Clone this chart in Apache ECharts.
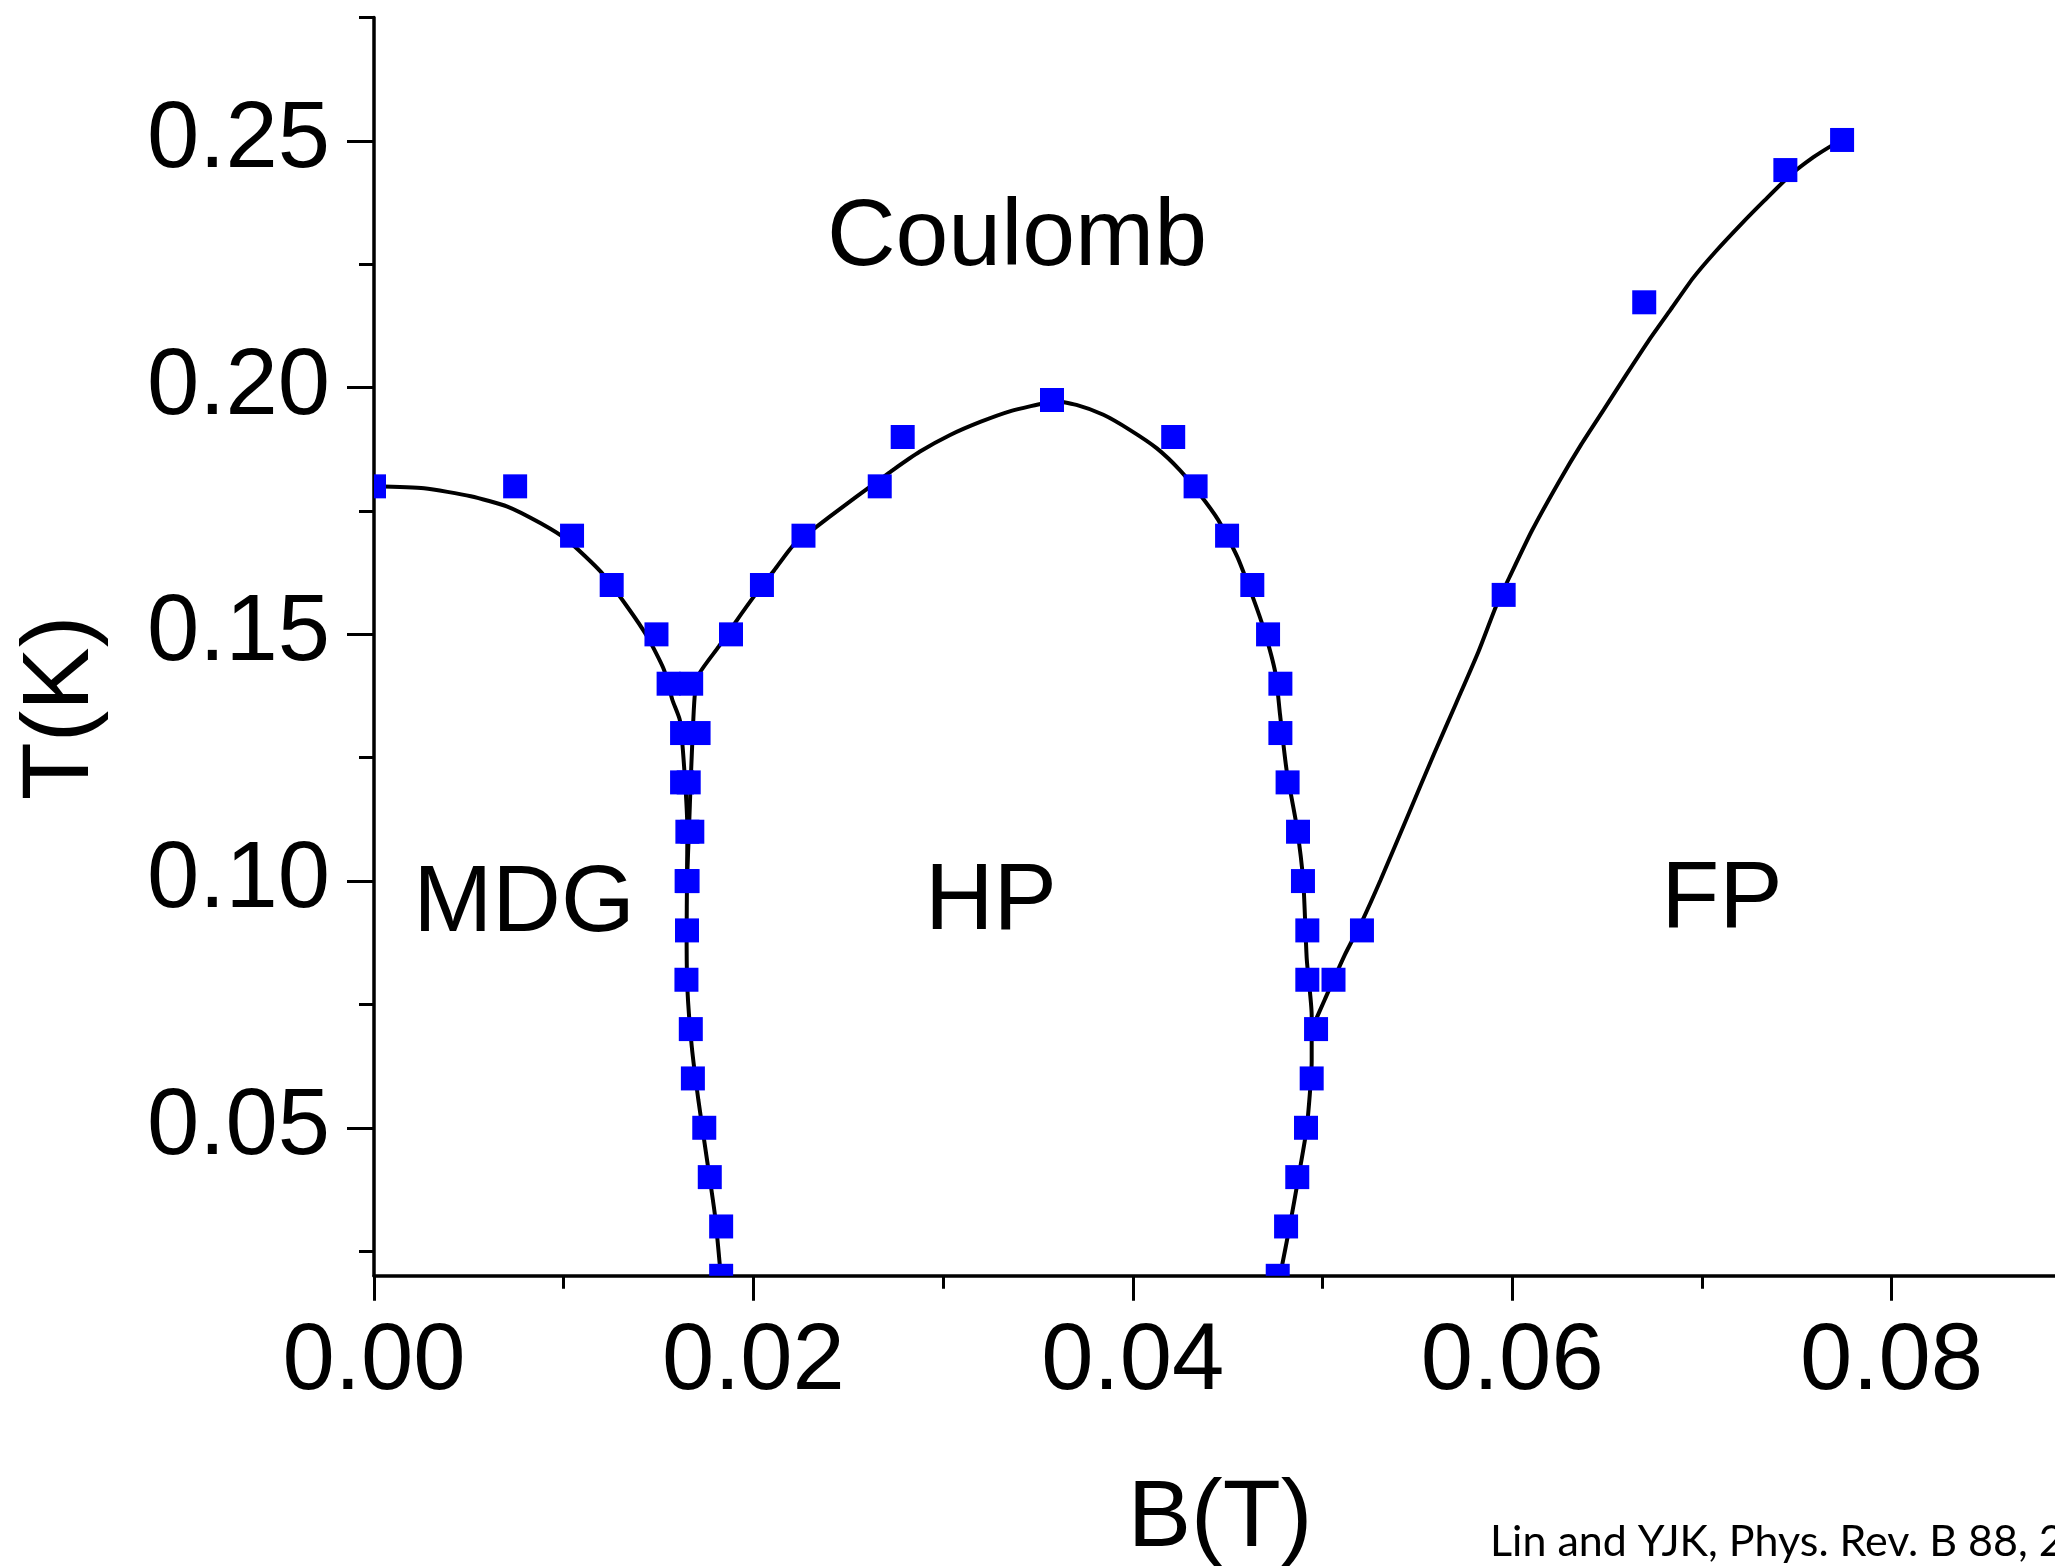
<!DOCTYPE html>
<html>
<head>
<meta charset="utf-8">
<script src="https://cdn.jsdelivr.net/npm/echarts@6/dist/echarts.min.js"></script>
<style>
  html, body { margin: 0; padding: 0; background: #fff; }
  #chart { width: 2055px; height: 1567px; }
</style>
</head>
<body>
<div id="chart"></div>
<script>
// tick values
const majorB = [0, 0.02, 0.04, 0.06, 0.08]
const minorB = [0.01, 0.03, 0.05, 0.07, 0.09]
const majorT = [0.05, 0.10, 0.15, 0.20, 0.25]
const minorT = [0.025, 0.075, 0.125, 0.175, 0.225, 0.275]

// measured points: MDG boundary
const mdgB = [0, 0.00744, 0.01044, 0.01253, 0.01489, 0.01553, 0.01624, 0.01624, 0.01652, 0.01648, 0.0165, 0.01647, 0.0167, 0.01681, 0.01741, 0.0177, 0.0183, 0.0183]
const mdgT = [0.18, 0.18, 0.17, 0.16, 0.15, 0.14, 0.13, 0.12, 0.11, 0.10, 0.09, 0.08, 0.07, 0.06, 0.05, 0.04, 0.03, 0.02]

// measured points: HP boundary
const hpB = [0.01672, 0.01711, 0.01659, 0.01678, 0.01653, 0.01882, 0.02045, 0.02264, 0.02666, 0.02787, 0.03574, 0.04213, 0.04331, 0.04497, 0.0463, 0.04713, 0.04778, 0.04778, 0.04816, 0.04871, 0.04897, 0.0492, 0.0492, 0.04966, 0.04943, 0.04913, 0.04867, 0.04808, 0.04764]
const hpT = [0.14, 0.13, 0.12, 0.11, 0.10, 0.15, 0.16, 0.17, 0.18, 0.19, 0.1975, 0.19, 0.18, 0.17, 0.16, 0.15, 0.14, 0.13, 0.12, 0.11, 0.10, 0.09, 0.08, 0.07, 0.06, 0.05, 0.04, 0.03, 0.02]

// measured points: FP boundary
const fpB = [0.05058, 0.05208, 0.05955, 0.06696, 0.0744, 0.07739]
const fpT = [0.08, 0.09, 0.158, 0.2173, 0.2441, 0.2502]

// guide curves
const fitMdgB = [0, 0.00264, 0.0051, 0.00703, 0.00879, 0.01019, 0.01195, 0.01335, 0.01441, 0.01529, 0.01573, 0.01613, 0.01639, 0.01652, 0.0165, 0.01648, 0.01652, 0.01675, 0.0171, 0.01754, 0.01798, 0.01828]
const fitMdgT = [0.18, 0.1796, 0.178, 0.1759, 0.1725, 0.1691, 0.1627, 0.1556, 0.1495, 0.1428, 0.1367, 0.1325, 0.1208, 0.11, 0.1003, 0.0891, 0.0782, 0.0665, 0.0556, 0.0439, 0.0321, 0.02]

const fitHpB = [0.0165, 0.0166, 0.0167, 0.01683, 0.01692, 0.01716, 0.01817, 0.01908, 0.02009, 0.0211, 0.02211, 0.02332, 0.02473, 0.02614, 0.02735, 0.02876, 0.03037, 0.03199, 0.0336, 0.03522, 0.03572, 0.03703, 0.03845, 0.03986, 0.04127, 0.04248, 0.04349, 0.0445, 0.04551, 0.04632, 0.04692, 0.04752, 0.04776, 0.04811, 0.04864, 0.04899, 0.04917, 0.04943, 0.04943, 0.04917, 0.04872, 0.04829, 0.04776]
const fitHpT = [0.1003, 0.11, 0.1208, 0.1325, 0.138, 0.1421, 0.1475, 0.1526, 0.158, 0.163, 0.1681, 0.1718, 0.1759, 0.1799, 0.1833, 0.187, 0.1904, 0.1931, 0.1953, 0.1968, 0.1974, 0.1965, 0.1945, 0.1914, 0.1877, 0.1833, 0.1786, 0.1732, 0.1657, 0.1576, 0.1509, 0.1421, 0.1338, 0.1224, 0.1111, 0.0997, 0.0842, 0.0728, 0.0635, 0.05, 0.0397, 0.0304, 0.02]

const fitFpB = [0.04943, 0.05011, 0.05117, 0.05209, 0.05305, 0.05446, 0.05587, 0.05705, 0.05823, 0.05917, 0.05987, 0.06105, 0.06246, 0.06364, 0.06482, 0.06599, 0.06717, 0.06835, 0.06953, 0.0707, 0.07211, 0.07329, 0.0747, 0.07588, 0.07682, 0.07739]
const fitFpT = [0.0700, 0.0759, 0.085, 0.0919, 0.1001, 0.1129, 0.1257, 0.1361, 0.1466, 0.1559, 0.1617, 0.1711, 0.1809, 0.1885, 0.1955, 0.2025, 0.2094, 0.2158, 0.2222, 0.2275, 0.2333, 0.2379, 0.2432, 0.2467, 0.249, 0.2502]

const zip = (xs, ys) => xs.map((x, i) => [x, ys[i]])

const FONT = '"Liberation Sans", Arial, sans-serif'
const MARK = 24

const chart = echarts.init(document.getElementById('chart'))

const curve = (b, t) => ({
  type: 'line',
  data: zip(b, t),
  showSymbol: false,
  smooth: 0.2,
  clip: true,
  lineStyle: { color: '#000', width: 4 },
  z: 2
})

// square markers, cut at the axes like the original
const points = (b, t) => ({
  type: 'custom',
  data: zip(b, t),
  z: 3,
  renderItem: (params, api) => {
    const p = api.coord([api.value(0), api.value(1)])
    const cs = params.coordSys
    const shape = echarts.graphic.clipRectByRect(
      { x: p[0] - MARK / 2, y: p[1] - MARK / 2, width: MARK, height: MARK },
      { x: cs.x, y: cs.y, width: cs.width, height: cs.height }
    )
    if (!shape) return
    return { type: 'rect', shape: shape, style: { fill: '#0000ff' } }
  }
})

const label = (text, x, y) => ({
  type: 'text', x: x, y: y,
  style: { text: text, font: '95px ' + FONT, fill: '#000', align: 'center', verticalAlign: 'middle' }
})

const option = {
  animation: false,
  backgroundColor: '#fff',
  // the plot runs past the right edge of the picture (x axis goes to 0.09)
  grid: { left: 374, top: 17.6, width: 1707.3, bottom: 291.2, outerBoundsMode: 'none', containLabel: false },
  xAxis: [
    {
      type: 'value', min: 0, max: 0.09, position: 'bottom',
      axisLine: { onZero: false, lineStyle: { color: '#000', width: 3.5 } },
      axisTick: { customValues: majorB, length: 25, lineStyle: { color: '#000', width: 3 } },
      axisLabel: { customValues: majorB, formatter: v => v.toFixed(2), fontSize: 94, fontFamily: FONT, color: '#000', margin: 40 },
      splitLine: { show: false }
    },
    {
      type: 'value', min: 0, max: 0.09, position: 'bottom',
      axisLine: { show: false },
      axisTick: { customValues: minorB, length: 13, lineStyle: { color: '#000', width: 3 } },
      axisLabel: { show: false },
      splitLine: { show: false }
    }
  ],
  yAxis: [
    {
      type: 'value', min: 0.02, max: 0.275, position: 'left',
      axisLine: { show: true, onZero: false, lineStyle: { color: '#000', width: 3.5 } },
      axisTick: { show: true, customValues: majorT, length: 27, lineStyle: { color: '#000', width: 3 } },
      axisLabel: { customValues: majorT, formatter: v => v.toFixed(2), fontSize: 94, fontFamily: FONT, color: '#000', margin: 44, padding: [0, 0, 12, 0] },
      splitLine: { show: false }
    },
    {
      type: 'value', min: 0.02, max: 0.275, position: 'left',
      axisLine: { show: false },
      axisTick: { show: true, customValues: minorT, length: 15, lineStyle: { color: '#000', width: 3 } },
      axisLabel: { show: false },
      splitLine: { show: false }
    }
  ],
  graphic: [
    label('Coulomb', 1017, 239),
    label('MDG', 524, 905),
    label('HP', 991, 903),
    label('FP', 1722, 901),
    label('B(T)', 1220, 1520),
    { type: 'text', x: 62, y: 708, rotation: Math.PI / 2, style: { text: 'T(K)', font: '95px ' + FONT, fill: '#000', align: 'center', verticalAlign: 'middle' } },
    { type: 'text', x: 1490, y: 1542, style: { text: 'Lin and YJK, Phys. Rev. B 88, 220401 (2013)', font: '43px Lato, "Open Sans", sans-serif', fill: '#000', align: 'left', verticalAlign: 'middle' } }
  ],
  series: [
    curve(fitMdgB, fitMdgT),
    curve(fitHpB, fitHpT),
    curve(fitFpB, fitFpT),
    points(mdgB, mdgT),
    points(hpB, hpT),
    points(fpB, fpT)
  ]
}

chart.setOption(option)
</script>
</body>
</html>
